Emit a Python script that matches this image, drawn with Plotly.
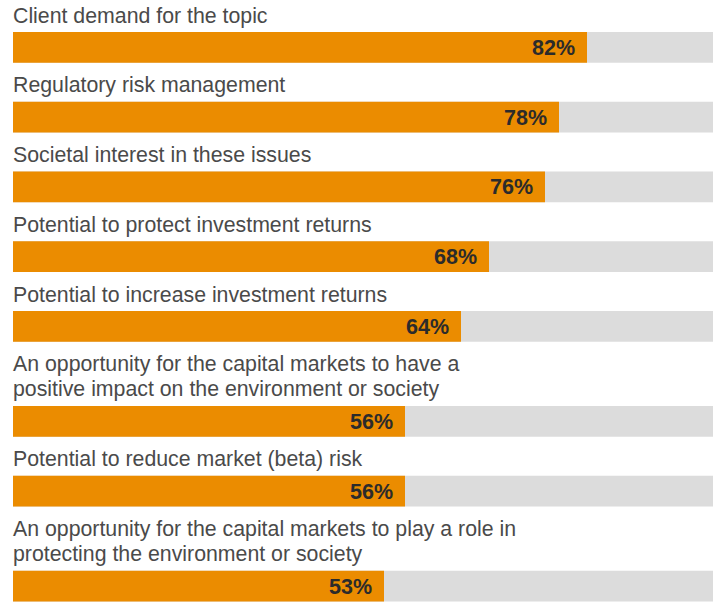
import plotly.graph_objects as go

labels = [
    "Client demand for the topic",
    "Regulatory risk management",
    "Societal interest in these issues",
    "Potential to protect investment returns",
    "Potential to increase investment returns",
    "An opportunity for the capital markets to have a<br>positive impact on the environment or society",
    "Potential to reduce market (beta) risk",
    "An opportunity for the capital markets to play a role in<br>protecting the environment or society",
]
values = [82, 78, 76, 68, 64, 56, 56, 53]
full_scale = [100] * len(values)

ORANGE = "#EB8C00"
GREY = "#DCDCDC"
LABEL_COLOR = "#4A4A4A"
PCT_COLOR = "#2B2B2B"
FONT = "Liberation Sans, Arial, sans-serif"
LABEL_SIZE = 21.3
PCT_SIZE = 21.5

# layout (pixel) positions along a reversed y axis
BAR_H = 30.7
LINE_GAP = 24.5
centers, line_pos = [], []
s = 0.0
for lab in labels:
    lines = lab.split("<br>")
    base = s + 23
    line_pos.append([(base + i * LINE_GAP - 7.4, t) for i, t in enumerate(lines)])
    top = s + 32 + 25.3 * (len(lines) - 1)
    centers.append(top + BAR_H / 2)
    s = top + 37.75

fig = go.Figure()
fig.add_trace(go.Bar(y=centers, x=full_scale, orientation="h", width=BAR_H,
                     marker=dict(color=GREY, line=dict(width=0)), hoverinfo="skip"))
fig.add_trace(go.Bar(y=centers, x=values, orientation="h", width=BAR_H,
                     marker=dict(color=ORANGE, line=dict(width=0)), hoverinfo="skip"))

ann = []
for lp in line_pos:
    for y, t in lp:
        ann.append(dict(x=0, y=y, xref="x", yref="y", text=t, showarrow=False,
                        xanchor="left", yanchor="middle", xshift=-2,
                        font=dict(family=FONT, size=LABEL_SIZE, color=LABEL_COLOR)))
for c, v in zip(centers, values):
    ann.append(dict(x=v, y=c + 0.5, xref="x", yref="y", text=f"<b>{v}%</b>", showarrow=False,
                    xanchor="right", yanchor="middle", xshift=-10,
                    font=dict(family=FONT, size=PCT_SIZE, color=PCT_COLOR)))

fig.update_layout(
    width=720, height=602,
    margin=dict(l=13, r=7, t=0, b=0),
    paper_bgcolor="white", plot_bgcolor="white",
    barmode="overlay", showlegend=False,
    annotations=ann,
    xaxis=dict(range=[0, 100], visible=False, fixedrange=True),
    yaxis=dict(range=[602, 0], visible=False, fixedrange=True),
)
fig.write_html(
    "out.html",
    config={"displayModeBar": False},
    post_script="document.body.style.margin='0';document.body.style.overflow='hidden';",
)
